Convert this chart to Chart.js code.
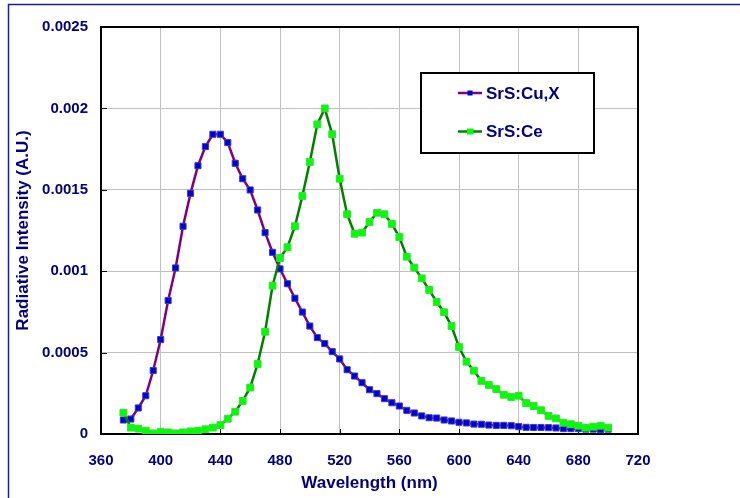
<!DOCTYPE html>
<html>
<head>
<meta charset="utf-8">
<script src="https://cdn.jsdelivr.net/npm/chart.js@4.4.0/dist/chart.umd.min.js"></script>
<style>
html, body { margin: 0; padding: 0; background: #fff; }
#wrap { width: 740px; height: 498px; }
</style>
</head>
<body>
<div id="wrap"><canvas id="chart" width="740" height="498"></canvas></div>
<script>
// ------------------------------ DATA ------------------------------
// Wavelength (nm), one sample every 5 nm
var wavelengths = [375, 380, 385, 390, 395, 400, 405, 410, 415, 420, 425, 430, 435, 440, 445,
    450, 455, 460, 465, 470, 475, 480, 485, 490, 495, 500, 505, 510, 515, 520, 525, 530, 535,
    540, 545, 550, 555, 560, 565, 570, 575, 580, 585, 590, 595, 600, 605, 610, 615, 620, 625,
    630, 635, 640, 645, 650, 655, 660, 665, 670, 675, 680, 685, 690, 695, 700];
// SrS:Cu,X
var cuValues = [0.000086, 0.000092, 0.00016, 0.000235, 0.00039, 0.00058, 0.00082, 0.00102,
    0.001276, 0.001478, 0.001648, 0.001765, 0.001841, 0.001841, 0.00179, 0.001663, 0.001568,
    0.001499, 0.001376, 0.001237, 0.001116, 0.001014, 0.000923, 0.000834, 0.000749, 0.000663,
    0.000592, 0.000555, 0.000506, 0.000461, 0.000395, 0.000356, 0.000315, 0.000272, 0.000248,
    0.000217, 0.000192, 0.000172, 0.000145, 0.000129, 0.000111, 0.0001, 0.000098, 0.000086,
    0.00008, 0.000072, 0.000068, 0.000061, 0.00006, 0.000055, 0.000053, 0.000053, 0.000051,
    0.000045, 0.000041, 0.00004, 0.00004, 0.000039, 0.000037, 0.000033, 0.000033, 0.000033,
    0.00003, 0.00003, 0.000026, 0.00003];
// SrS:Ce
var ceValues = [0.000131, 0.000039, 0.000033, 0.00002, 0.000004, 0.000014, 0.00001, 0.000004,
    0.00001, 0.000016, 0.00002, 0.000029, 0.000039, 0.000055, 0.000094, 0.000137, 0.000203,
    0.000285, 0.00043, 0.000628, 0.000911, 0.001081, 0.001147, 0.001276, 0.001462, 0.001671,
    0.001902, 0.002, 0.001841, 0.001568, 0.00135, 0.00123, 0.001237, 0.001302, 0.001359,
    0.00135, 0.00129, 0.00121, 0.001089, 0.001022, 0.000956, 0.000885, 0.000811, 0.000748,
    0.000663, 0.000534, 0.000444, 0.000389, 0.000326, 0.000301, 0.000276, 0.000241, 0.000227,
    0.000235, 0.00019, 0.000172, 0.000146, 0.000111, 0.000096, 0.000069, 0.00006, 0.000051,
    0.000039, 0.000045, 0.000051, 0.000039];
var seriesNames = ["SrS:Cu,X", "SrS:Ce"];
// Axis ticks
var xTicks = [360, 400, 440, 480, 520, 560, 600, 640, 680, 720];
var yTicks = [0, 0.0005, 0.001, 0.0015, 0.002, 0.0025];
// ------------------------------ SETTINGS ------------------------------
var navy = "#000080";
var fontFamily = "Arial, 'Liberation Sans', sans-serif";

function toPoints(values) {
    return wavelengths.map(function (w, i) { return { x: w, y: values[i] }; });
}

// Page border, plot frame and inner tick marks
var framePlugin = {
    id: 'frame',
    beforeDraw: function (chart) {
        var ctx = chart.ctx;
        ctx.save();
        ctx.fillStyle = "#fff";
        ctx.fillRect(0, 0, chart.width, chart.height);
        ctx.strokeStyle = "#1c1c96";
        ctx.lineWidth = 1.5;
        ctx.beginPath();
        ctx.moveTo(8.5, chart.height);
        ctx.lineTo(8.5, 4.5);
        ctx.lineTo(chart.width, 4.5);
        ctx.stroke();
        ctx.restore();
    },
    beforeDatasetsDraw: function (chart) {
        var a = chart.chartArea, ctx = chart.ctx;
        var xs = chart.scales.x, ys = chart.scales.y;
        ctx.save();
        ctx.strokeStyle = "#000";
        ctx.lineWidth = 1;
        ctx.beginPath();
        yTicks.forEach(function (v) {
            var py = Math.round(ys.getPixelForValue(v)) + 0.5;
            ctx.moveTo(a.left, py);
            ctx.lineTo(a.left + 6, py);
        });
        xTicks.forEach(function (v) {
            var px = Math.round(xs.getPixelForValue(v)) + 0.5;
            ctx.moveTo(px, a.bottom);
            ctx.lineTo(px, a.bottom - 5);
        });
        ctx.stroke();
        ctx.lineWidth = 2;
        ctx.strokeRect(a.left, a.top, a.right - a.left, a.bottom - a.top);
        ctx.restore();
    }
};

// Boxed legend inside the plot
var legendPlugin = {
    id: 'legendBox',
    afterDraw: function (chart) {
        var ctx = chart.ctx;
        var bx = 421, by = 73, bw = 173, bh = 80;
        ctx.save();
        ctx.fillStyle = "#fff";
        ctx.fillRect(bx, by, bw, bh);
        ctx.lineWidth = 2;
        ctx.strokeStyle = "#000";
        ctx.strokeRect(bx, by, bw, bh);
        chart.data.datasets.forEach(function (ds, i) {
            var cy = by + 20 + i * 38.5;
            ctx.strokeStyle = ds.borderColor;
            ctx.lineWidth = 2.5;
            ctx.beginPath();
            ctx.moveTo(458, cy);
            ctx.lineTo(482, cy);
            ctx.stroke();
            var s = i === 0 ? 5 : 6;
            ctx.fillStyle = ds.pointBackgroundColor;
            ctx.fillRect(470 - s / 2, cy - s / 2, s, s);
            ctx.fillStyle = navy;
            ctx.font = "bold 17px " + fontFamily;
            ctx.textBaseline = "middle";
            ctx.textAlign = "left";
            ctx.fillText(ds.label, 486, cy + 1);
        });
        ctx.restore();
    }
};

var chart = new Chart(document.getElementById('chart').getContext('2d'), {
    type: 'line',
    data: {
        datasets: [{
            label: seriesNames[0],
            data: toPoints(cuValues),
            borderColor: "#800080",
            borderWidth: 2.5,
            pointStyle: 'rect',
            pointRadius: 4.3,
            pointBackgroundColor: "#0000cc",
            pointBorderColor: "#3a3acc",
            pointBorderWidth: 1,
            tension: 0,
            order: 1
        }, {
            label: seriesNames[1],
            data: toPoints(ceValues),
            borderColor: "#008000",
            borderWidth: 2.5,
            pointStyle: 'rect',
            pointRadius: 4.8,
            pointBackgroundColor: "#00ff00",
            pointBorderColor: "#33e033",
            pointBorderWidth: 1,
            tension: 0,
            order: 0
        }]
    },
    options: {
        responsive: false,
        animation: false,
        devicePixelRatio: 1,
        layout: { padding: { left: 0, top: 27, right: 102, bottom: 0 } },
        plugins: {
            legend: { display: false },
            tooltip: { enabled: false }
        },
        scales: {
            x: {
                type: 'linear',
                min: 360,
                max: 720,
                afterBuildTicks: function (scale) {
                    scale.ticks = xTicks.map(function (v) { return { value: v }; });
                },
                afterFit: function (scale) { scale.height = 64; },
                grid: { color: "#c0c0c0", lineWidth: 1, drawTicks: false },
                border: { display: false },
                ticks: {
                    color: navy,
                    padding: 18,
                    maxRotation: 0,
                    font: { family: fontFamily, size: 15, weight: 'bold' },
                    callback: function (v) { return String(v); }
                },
                title: {
                    display: true,
                    text: "Wavelength (nm)",
                    color: navy,
                    padding: { top: 0, bottom: 4 },
                    font: { family: fontFamily, size: 17, weight: 'bold' }
                }
            },
            y: {
                min: 0,
                max: 0.0025,
                afterBuildTicks: function (scale) {
                    scale.ticks = yTicks.map(function (v) { return { value: v }; });
                },
                afterFit: function (scale) { scale.width = 101; },
                grid: { color: "#c0c0c0", lineWidth: 1, drawTicks: false },
                border: { display: false },
                ticks: {
                    color: navy,
                    padding: 13,
                    font: { family: fontFamily, size: 15, weight: 'bold' },
                    callback: function (v) { return String(v); }
                },
                title: {
                    display: true,
                    text: "Radiative Intensity (A.U.)",
                    color: navy,
                    padding: { top: 13, bottom: 0 },
                    font: { family: fontFamily, size: 17, weight: 'bold' }
                }
            }
        }
    },
    plugins: [framePlugin, legendPlugin]
});
</script>
</body>
</html>
